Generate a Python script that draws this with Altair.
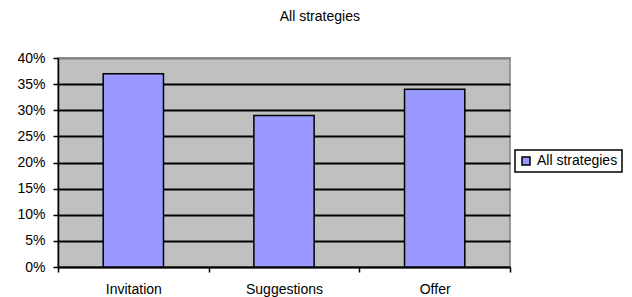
import altair as alt
import pandas as pd

categories = ["Invitation", "Suggestions", "Offer"]
values = [0.37, 0.29, 0.34]
series = ["All strategies"] * 3

df = pd.DataFrame({"category": categories, "value": values, "series": series})

font = "Liberation Sans"

chart = alt.Chart(df).mark_bar(stroke="black", strokeWidth=1.5,
                               width=alt.RelativeBandSize(0.4)).encode(
    x=alt.X("category:N", sort=categories, title=None,
            scale=alt.Scale(paddingInner=0, paddingOuter=0),
            axis=alt.Axis(labelAngle=0, tickBand="extent", domainColor="black",
                          tickColor="black", tickSize=5, labelFont=font,
                          labelFontSize=14, labelColor="black", labelPadding=10,
                          domainWidth=1.5, tickWidth=1.5)),
    y=alt.Y("value:Q", title=None,
            scale=alt.Scale(domain=[0, 0.4], nice=False),
            axis=alt.Axis(format=".0%", values=[0, 0.05, 0.1, 0.15, 0.2, 0.25, 0.3, 0.35, 0.4],
                          grid=True,
                          gridColor=alt.condition("datum.value >= 0.4", alt.value("#808080"), alt.value("black")),
                          gridWidth=2, domainColor="black", domainWidth=1.5,
                          tickColor="black", tickSize=5, tickWidth=1.5,
                          labelFont=font, labelFontSize=14, labelColor="black",
                          labelPadding=8)),
    fill=alt.Fill("series:N", scale=alt.Scale(range=["#9999FF"]),
                  legend=alt.Legend(title=None, orient="none", legendX=457, legendY=92,
                                    symbolType="square", symbolStrokeColor="black",
                                    symbolStrokeWidth=1.5, symbolSize=64,
                                    labelFont=font, labelFontSize=14, labelColor="black",
                                    strokeColor="black", fillColor="white",
                                    padding=4, labelLimit=200, labelOffset=4)),
).properties(
    width=452, height=209,
    title=alt.TitleParams("All strategies", font=font, fontSize=14, fontWeight="normal",
                          color="black", anchor="middle", frame="bounds", offset=27),
    autosize=alt.AutoSizeParams(type="none"),
    padding={"left": 50, "top": 50, "right": 114, "bottom": 30},
).configure_view(
    fill="#C0C0C0", stroke="#808080", strokeWidth=1.5
).configure_legend(
    strokeWidth=1.5
)

chart.save("out.html", embed_options={"renderer": "svg", "actions": False})
